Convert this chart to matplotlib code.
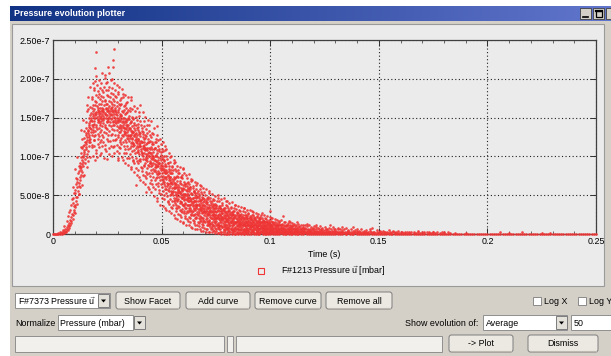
import numpy as np
import matplotlib
matplotlib.use("Agg")
import matplotlib.pyplot as plt
from matplotlib.patches import Rectangle, FancyBboxPatch, Polygon

# Pressure readings (units of 1e-9 mbar) for each millisecond of acquisition,
# split into the four quarter-millisecond sub-bins +0, +0.25, +0.5, +0.75 ms
pressure_quarter_ms = {
    0: [[0], [0], [], []],
    1: [[0], [], [0], []],
    2: [[0], [1], [0], []],
    3: [[0], [2], [1], []],
    4: [[0], [3], [1], [5]],
    5: [[1, 10], [4], [2], [7]],
    6: [[2, 4], [6, 17], [9], [12]],
    7: [[5, 23], [10, 8], [14, 28], [18]],
    8: [[11, 31], [17, 38], [22, 14], [26, 45]],
    9: [[19, 40, 60], [25, 47], [31, 53], [36, 28]],
    10: [[27, 53, 38], [35, 57, 84], [42, 64], [48, 72]],
    11: [[39, 67, 99], [48, 71, 60], [56, 78], [62, 88, 52]],
    12: [[51, 81, 66], [61, 85, 74], [70, 91, 87], [76, 99, 112]],
    13: [[83, 104, 86, 134], [63, 95, 80], [90, 111, 122], [75, 99, 93]],
    14: [[88, 113, 147, 101], [103, 124, 106, 115], [76, 108, 133], [97, 118, 92]],
    15: [[116, 136, 144, 127, 112], [109, 130, 119], [99, 125, 103, 166], [86, 121, 158]],
    16: [[94, 130, 161, 133], [107, 134, 177], [118, 138, 113, 121], [125, 143, 150, 128, 140]],
    17: [[123, 145, 189, 118], [99, 137, 164, 153], [131, 150, 156, 135, 147], [112, 141, 176, 128]],
    18: [[115, 145, 174, 162], [134, 154, 159, 195, 138, 152], [101, 140, 166, 131], [126, 149, 186, 121]],
    19: [[188, 161, 146, 142, 121, 114], [197, 166, 150, 127, 156], [214, 171, 153, 133, 96], [234, 179, 157, 138, 105]],
    20: [[203, 170, 154, 140, 108], [192, 165, 151, 135, 99], [184, 160, 148, 129, 162], [176, 157, 144, 123, 116, 147]],
    21: [[181, 159, 145, 126, 155], [199, 168, 152, 137, 112], [174, 156, 141, 119, 143], [188, 163, 149, 131, 102]],
    22: [[195, 167, 152, 134, 104], [178, 158, 145, 121, 150], [207, 172, 155, 139, 113], [186, 162, 148, 128, 160]],
    23: [[177, 157, 143, 118, 152], [183, 161, 147, 125, 158], [190, 166, 150, 132, 98], [201, 171, 154, 138, 110]],
    24: [[205, 173, 156, 141, 115], [194, 168, 153, 136, 107], [186, 163, 149, 130, 161], [179, 159, 146, 122, 144]],
    25: [[196, 167, 153, 135, 97], [215, 178, 160, 146, 120, 148], [185, 163, 150, 128, 158], [207, 172, 156, 141, 111]],
    26: [[189, 165, 151, 133, 103], [176, 158, 144, 120, 153], [198, 170, 155, 139, 113], [182, 161, 148, 127, 162]],
    27: [[188, 164, 150, 129, 159], [200, 168, 153, 135, 101], [215, 174, 157, 141, 112], [224, 180, 160, 146, 121, 144]],
    28: [[239, 172, 155, 140, 114], [194, 166, 151, 134, 104], [185, 162, 147, 128, 160], [178, 158, 144, 121, 149]],
    29: [[176, 157, 143, 122, 155], [192, 165, 150, 134, 107], [170, 153, 139, 115, 145], [183, 160, 147, 128, 98]],
    30: [[180, 157, 144, 125, 96], [167, 150, 136, 112, 138], [189, 162, 147, 131, 104], [173, 154, 140, 119, 152]],
    31: [[166, 146, 131, 111, 121], [168, 152, 137, 116, 134], [175, 153, 139, 124, 148], [187, 158, 144, 127, 99]],
    32: [[181, 157, 141, 126, 96], [177, 150, 138, 118, 145], [165, 149, 133, 114, 136], [160, 143, 129, 104]],
    33: [[166, 146, 130, 110, 132], [179, 154, 137, 121, 92], [156, 141, 127, 105, 162], [169, 148, 135, 119, 144]],
    34: [[170, 147, 131, 113, 138], [157, 140, 124, 98], [176, 149, 134, 122, 89], [160, 141, 128, 109, 126]],
    35: [[152, 136, 120, 98, 148], [158, 137, 126, 103, 124], [162, 143, 127, 111, 135], [173, 145, 133, 117, 86]],
    36: [[177, 144, 127, 113, 84], [161, 139, 124, 107, 130], [151, 133, 122, 99, 119], [148, 132, 116, 94]],
    37: [[149, 132, 117, 96, 113], [165, 140, 126, 108, 80], [143, 127, 115, 91, 137], [159, 134, 121, 104, 129]],
    38: [[151, 130, 119, 98, 125], [141, 123, 111, 85, 63], [163, 136, 120, 106, 76], [147, 128, 113, 94, 117]],
    39: [[138, 122, 106, 82, 134], [142, 123, 112, 91, 108], [152, 129, 114, 95, 120], [157, 131, 116, 103, 73]],
    40: [[166, 130, 114, 97, 70], [145, 126, 113, 94, 117], [141, 120, 107, 86, 110], [133, 119, 105, 81]],
    41: [[136, 119, 104, 85, 102], [157, 125, 111, 97, 67], [132, 114, 100, 76, 129], [146, 123, 110, 89, 115]],
    42: [[139, 118, 105, 88, 112], [127, 111, 97, 75], [151, 124, 108, 92, 64], [135, 116, 103, 80, 99]],
    43: [[126, 110, 96, 72, 54], [130, 111, 98, 77, 94], [140, 117, 102, 85, 108], [147, 119, 105, 89, 61, 122]],
    44: [[141, 118, 101, 87, 58], [133, 111, 100, 79, 106], [128, 109, 94, 75, 92], [120, 104, 91, 66]],
    45: [[125, 104, 91, 70, 88], [146, 112, 98, 82, 54], [119, 102, 89, 65, 116], [130, 110, 97, 78, 101]],
    46: [[129, 106, 92, 73, 98], [116, 99, 84, 60], [137, 109, 96, 81, 49], [118, 101, 90, 69, 86]],
    47: [[111, 95, 83, 58, 111], [119, 100, 86, 64, 80], [122, 102, 89, 72, 94], [139, 108, 93, 77, 46]],
    48: [[127, 105, 88, 74, 43], [121, 99, 87, 66, 90], [113, 96, 81, 62, 77], [107, 92, 78, 53]],
    49: [[109, 91, 79, 57, 73], [123, 98, 85, 69, 38], [106, 89, 75, 51, 102], [116, 96, 82, 65, 87]],
    50: [[110, 91, 78, 60, 85], [99, 84, 71, 47], [119, 97, 82, 67, 36], [107, 88, 75, 56, 69]],
    51: [[96, 80, 67, 45, 94], [100, 84, 72, 50, 65], [108, 88, 74, 58, 81], [113, 90, 78, 62, 34]],
    52: [[110, 87, 73, 58, 31], [101, 82, 71, 53, 78], [97, 80, 66, 49, 62], [91, 76, 64, 41]],
    53: [[92, 75, 64, 43, 57], [104, 81, 69, 55, 29], [88, 72, 59, 39, 84], [99, 79, 66, 50, 73]],
    54: [[93, 74, 62, 45, 70], [82, 67, 56, 35], [101, 79, 66, 51, 27], [88, 71, 59, 42, 54]],
    55: [[79, 64, 53, 33, 86], [83, 68, 55, 37, 50], [91, 71, 59, 43, 66], [96, 74, 61, 47, 24]],
    56: [[93, 72, 59, 44, 21], [84, 66, 54, 40, 63], [81, 64, 52, 34, 47], [74, 60, 50, 30, 38]],
    57: [[75, 60, 49, 33, 44], [88, 68, 54, 42, 19], [73, 58, 45, 26, 79], [83, 63, 53, 36, 57]],
    58: [[78, 60, 49, 35, 56], [68, 54, 43, 24, 31], [86, 66, 53, 40, 17], [74, 59, 48, 29, 41]],
    59: [[65, 52, 41, 22, 73], [72, 57, 46, 28, 39], [76, 58, 47, 32, 55], [84, 63, 51, 38, 15]],
    60: [[85, 59, 49, 37, 14], [79, 58, 45, 30, 48], [67, 52, 44, 27, 36], [65, 50, 39, 20, 62]],
    61: [[65, 51, 40, 23, 34], [76, 57, 45, 33, 12, 27], [62, 49, 38, 19, 66], [72, 55, 44, 30, 51]],
    62: [[67, 52, 42, 28, 46], [58, 47, 37, 17, 59], [77, 56, 43, 31, 11], [64, 48, 38, 22, 33]],
    63: [[58, 44, 33, 15, 61], [60, 47, 37, 21, 30], [68, 51, 39, 25, 45], [71, 53, 43, 31, 9, 26]],
    64: [[70, 52, 41, 28, 8], [62, 47, 37, 25, 40], [59, 46, 36, 18, 29], [54, 42, 32, 14, 55]],
    65: [[56, 43, 33, 17, 25], [67, 48, 38, 26, 7, 20], [53, 42, 31, 12, 50], [63, 46, 36, 22, 39]],
    66: [[58, 43, 34, 20, 35], [49, 38, 28, 11, 53], [66, 48, 37, 26, 6], [55, 42, 32, 16, 24]],
    67: [[49, 37, 27, 10, 47], [51, 39, 30, 14, 21], [58, 43, 32, 19, 34], [63, 44, 36, 23, 6, 17]],
    68: [[62, 44, 33, 22, 4], [54, 40, 31, 17, 31], [51, 37, 28, 13, 20], [45, 35, 27, 9, 48]],
    69: [[47, 37, 28, 12, 18], [59, 41, 32, 21, 4, 15], [45, 33, 24, 8, 43], [54, 38, 29, 17, 30]],
    70: [[50, 36, 27, 15, 28], [41, 32, 23, 7, 44], [58, 40, 30, 19, 3], [47, 35, 26, 11, 17]],
    71: [[39, 30, 21, 6, 41], [45, 33, 24, 11, 16], [48, 34, 26, 14, 27], [56, 38, 29, 18, 3, 12]],
    72: [[53, 35, 27, 17, 2], [47, 34, 25, 13, 29], [42, 31, 22, 9, 14], [40, 28, 20, 7, 37]],
    73: [[42, 29, 21, 8, 13], [52, 35, 25, 15, 2, 10], [36, 28, 19, 5, 39], [45, 32, 24, 12, 26]],
    74: [[44, 30, 22, 10, 23], [37, 26, 17, 4, 34], [49, 33, 25, 16, 1, 19], [39, 29, 21, 8, 14]],
    75: [[34, 25, 17, 4, 36], [38, 28, 20, 7, 12], [42, 29, 21, 11, 22], [50, 33, 24, 14, 1, 9]],
    76: [[47, 31, 23, 13, 1, 8], [42, 29, 20, 10, 21], [36, 26, 19, 6, 11], [34, 24, 16, 3, 33]],
    77: [[36, 26, 18, 6, 10], [45, 30, 22, 12, 0], [32, 23, 15, 3, 29], [40, 27, 19, 9, 20]],
    78: [[38, 27, 18, 9, 19], [31, 22, 14, 3, 32], [46, 29, 21, 12, 0, 7], [34, 24, 17, 5, 10]],
    79: [[30, 21, 13, 2, 27], [33, 23, 16, 5, 9], [37, 25, 17, 8, 18], [43, 28, 20, 11, 0]],
    80: [[42, 27, 19, 10, 0, 6], [36, 24, 17, 8, 18], [33, 23, 15, 5, 8], [29, 21, 13, 2, 30]],
    81: [[31, 22, 14, 4, 8], [40, 26, 18, 10, 0], [28, 20, 12, 2, 26], [35, 24, 16, 7, 17]],
    82: [[34, 22, 15, 7, 16], [27, 19, 11, 2, 28], [41, 25, 17, 9, 0, 5], [30, 21, 14, 4, 7]],
    83: [[26, 18, 11, 1, 25], [29, 20, 13, 4, 7], [33, 22, 15, 6, 14], [38, 24, 16, 9, 0]],
    84: [[37, 23, 16, 8, 0, 4], [32, 21, 14, 6, 15], [28, 19, 12, 3, 6], [25, 17, 10, 1, 27]],
    85: [[27, 18, 12, 3, 6], [36, 22, 15, 8, 0], [24, 17, 10, 1, 23], [31, 20, 13, 5, 14]],
    86: [[30, 19, 13, 5, 12], [23, 16, 9, 1, 25], [35, 21, 14, 7, 0], [26, 18, 11, 3, 6]],
    87: [[22, 15, 9, 1, 22], [25, 17, 11, 3, 4], [29, 19, 12, 5, 13], [33, 20, 14, 7, 0]],
    88: [[34, 20, 13, 6, 0], [28, 18, 12, 4, 11], [24, 16, 10, 2, 5], [22, 15, 8, 1, 20]],
    89: [[24, 16, 10, 2, 5], [31, 19, 13, 6, 0], [21, 14, 8, 1, 23], [27, 17, 11, 4, 12]],
    90: [[26, 17, 11, 4, 5], [20, 14, 8, 0], [31, 18, 12, 6, 10], [23, 15, 9, 2, 21]],
    91: [[20, 13, 7, 0], [22, 14, 9, 2, 19], [25, 16, 10, 3, 4], [29, 18, 12, 5, 11]],
    92: [[28, 17, 11, 5, 9], [24, 15, 10, 3, 4], [21, 14, 8, 1, 22], [19, 12, 7, 0]],
    93: [[20, 13, 8, 1, 18], [27, 16, 11, 5, 10], [18, 12, 6, 0], [23, 15, 9, 3, 4]],
    94: [[22, 14, 9, 3, 3], [17, 11, 6, 0], [26, 16, 10, 4, 8], [20, 13, 7, 1, 19]],
    95: [[17, 11, 6, 0], [19, 12, 7, 1, 16], [22, 14, 8, 2, 3], [25, 15, 10, 4, 9]],
    96: [[27, 15, 9, 4, 8], [21, 13, 8, 2, 3], [18, 12, 7, 1, 17], [16, 10, 5, 0]],
    97: [[17, 11, 6, 1, 15], [24, 14, 9, 4, 7], [15, 10, 5, 0], [20, 12, 8, 2, 3]],
    98: [[19, 12, 7, 2, 2], [15, 9, 5, 0], [23, 13, 8, 3, 7], [17, 11, 6, 1, 16]],
    99: [[14, 9, 4, 0], [16, 10, 6, 1, 14], [18, 11, 7, 2, 2], [22, 13, 8, 3, 6]],
    100: [[30, 13, 8, 4, 0], [21, 12, 7, 3, 6], [17, 11, 6, 2, 10], [15, 9, 5, 1]],
    101: [[20, 10, 5, 1], [16, 8, 4, 0], [13, 7, 3, 14], [11, 6, 2]],
    102: [[19, 9, 4, 0], [15, 8, 3, 13], [12, 7, 2], [10, 5, 1]],
    103: [[18, 9, 4, 0], [14, 7, 3, 11], [12, 6, 2], [10, 5, 1]],
    104: [[17, 8, 4, 0], [13, 7, 3, 15], [11, 6, 2], [9, 5, 1]],
    105: [[18, 8, 3, 12], [13, 6, 2], [11, 5, 1], [9, 4, 0]],
    106: [[23, 8, 3], [16, 7, 2], [12, 6, 1], [10, 4, 0]],
    107: [[15, 7, 2], [12, 5, 1], [10, 4, 0], [8, 3, 11]],
    108: [[14, 6, 2], [11, 5, 1], [9, 4, 0], [8, 3, 17]],
    109: [[15, 6, 2], [11, 5, 1], [9, 4, 0], [7, 3, 10]],
    110: [[14, 6, 1], [10, 4, 0], [8, 3, 12], [7, 2]],
    111: [[13, 5, 1], [10, 4, 0], [8, 3], [6, 2]],
    112: [[12, 5, 1], [9, 4, 0], [7, 3, 16], [6, 2]],
    113: [[13, 4, 0], [9, 3, 10], [7, 2], [5, 1]],
    114: [[11, 4, 0], [8, 3], [7, 2], [5, 1]],
    115: [[12, 4, 0], [8, 3, 9], [6, 2], [5, 1]],
    116: [[11, 3], [8, 2], [6, 1], [4, 0]],
    117: [[10, 3, 13], [7, 2], [5, 1], [4, 0]],
    118: [[11, 3], [7, 2], [5, 1], [4, 0]],
    119: [[9, 2], [7, 1], [5, 0], [3, 8]],
    120: [[10, 2], [6, 1], [4, 0], [3]],
    121: [[9, 2, 12], [6, 1], [4, 0], [3]],
    122: [[8, 2], [6, 1], [4, 0], [3]],
    123: [[10, 1], [5, 0], [4, 7], [2]],
    124: [[8, 1], [5, 0], [3], [2]],
    125: [[9, 1], [5, 0], [3, 6], [2]],
    126: [[7, 1], [5, 0], [3], [2]],
    127: [[8, 1], [4, 0], [3, 11], [2]],
    128: [[7, 0], [4], [3], [1]],
    129: [[9, 0], [4, 6], [2], [1]],
    130: [[7, 0], [4], [2], [1]],
    131: [[6, 0], [3, 8], [2], [1]],
    132: [[7, 0], [3], [2], [1]],
    133: [[5, 0], [3, 9], [2], [1]],
    134: [[6], [3], [1], [0]],
    135: [[8, 0], [3], [2], [1]],
    136: [[5, 4], [2], [1], [0]],
    137: [[6], [3], [1], [0]],
    138: [[9, 0], [4], [2], [1]],
    139: [[5], [2], [1], [0]],
    140: [[6, 4], [3], [1], [0]],
    141: [[4], [2], [1], [0]],
    142: [[7], [3], [1], [0]],
    143: [[4], [2], [0], [1]],
    144: [[5], [2], [1], [0]],
    145: [[3], [1], [0], [6]],
    146: [[4], [2], [1], [0]],
    147: [[8], [3], [1], [0]],
    148: [[3], [1], [0], []],
    149: [[5], [2], [1], [0]],
    150: [[3], [1], [0], [4]],
    151: [[2], [1], [0], []],
    152: [[4], [2], [0], []],
    153: [[3], [1], [0], []],
    154: [[2], [1], [0], [5]],
    155: [[3], [1], [0], []],
    156: [[2], [0], [4], []],
    157: [[3], [1], [0], []],
    158: [[2], [1], [0], []],
    159: [[4], [1], [0], []],
    160: [[2], [0], [3], []],
}

# Tail of the record: readings per whole millisecond (units of 1e-9 mbar)
tail_pressure_by_ms = {
    161: [1, 0], 162: [3, 1, 0], 163: [2, 0], 164: [1, 0, 3], 165: [2, 0],
    166: [3, 1, 0], 167: [1, 0], 168: [2, 0, 4], 169: [1, 0], 170: [3, 0],
    171: [1, 0, 2], 172: [2, 0], 173: [3, 1, 0], 174: [1, 0], 175: [2, 0, 3],
    176: [0, 1], 177: [3, 0], 178: [1, 0], 179: [2, 0], 180: [1, 0, 3],
    181: [0], 182: [2, 0], 183: [1, 0], 184: [0], 185: [1, 0],
    186: [0], 187: [0], 188: [0], 189: [0], 190: [1, 0],
    191: [0], 192: [0], 193: [0], 194: [0], 195: [0],
    196: [0], 197: [0], 198: [0], 199: [0], 200: [0],
    201: [0], 202: [0], 203: [0], 204: [0], 205: [0],
    206: [2, 0], 207: [0], 208: [0], 209: [0], 210: [1, 0],
    211: [0], 212: [0], 213: [0], 214: [0], 215: [0],
    216: [2, 0], 217: [0], 218: [0], 219: [0], 220: [0],
    221: [0], 222: [0], 223: [0], 224: [0], 225: [1, 0],
    226: [0], 227: [0], 228: [0], 229: [1, 0], 230: [0],
    231: [0], 232: [0], 233: [0], 234: [0], 235: [0],
    236: [0], 237: [0], 238: [0], 239: [0], 240: [0],
    241: [0], 242: [0], 243: [0], 244: [0], 245: [0],
    246: [0], 247: [0], 248: [0], 249: [0], 250: [0],
}

sub_bin_offsets_ms = [0.0, 0.25, 0.5, 0.75]

x_ticks = [0, 0.05, 0.1, 0.15, 0.2, 0.25]
x_tick_labels = ["0", "0.05", "0.1", "0.15", "0.2", "0.25"]
y_ticks = [0, 5e-8, 1e-7, 1.5e-7, 2e-7, 2.5e-7]
y_tick_labels = ["0", "5.00e-8", "1.00e-7", "1.50e-7", "2.00e-7", "2.50e-7"]
x_label = "Time (s)"
curve_label = r"F#1213 Pressure $\vec{\mathrm{u}}$ [mbar]"
window_title = "Pressure evolution plotter"

times, values = [], []
for t, bins in pressure_quarter_ms.items():
    for off, vals in zip(sub_bin_offsets_ms, bins):
        for v in vals:
            times.append(t + off)
            values.append(v)
for t, vals in tail_pressure_by_ms.items():
    for v in vals:
        times.append(t)
        values.append(v)
time_s = np.array(times) * 1e-3
pressure_mbar = np.array(values) * 1e-9

plt.rcParams["font.family"] = ["Liberation Sans", "DejaVu Sans"]
plt.rcParams["mathtext.fontset"] = "custom"
plt.rcParams["mathtext.rm"] = "Liberation Sans"
plt.rcParams["mathtext.it"] = "Liberation Sans"

W, H = 611, 356
WIN_GRAY = "#d4d0c8"
PANEL = "#ebebeb"
RED = "#ef3535"
FS = 6.4

fig = plt.figure(figsize=(W / 100, H / 100), dpi=100)
fig.patch.set_facecolor(WIN_GRAY)

ui = fig.add_axes([0, 0, 1, 1], zorder=0)
ui.axis("off")

# window frame and title bar
ui.add_patch(Rectangle((0, 0), W, 6, fc="white", ec="none"))
ui.add_patch(Rectangle((0, 0), 10, H, fc="white", ec="none"))
grad = np.linspace(0, 1, 256)[None, :, None]
c0 = np.array([0.07, 0.20, 0.52])
c1 = np.array([0.38, 0.46, 0.80])
ui.imshow(c0 + (c1 - c0) * grad, extent=[10, W, 21, 6], aspect="auto", zorder=1)
ui.text(14, 13.5, window_title, color="white", fontsize=FS, fontweight="bold",
        va="center", ha="left", zorder=2)
for bx in (580, 593, 606):
    ui.add_patch(Rectangle((bx, 8), 11, 11, fc=WIN_GRAY, ec="#404040", lw=0.6, zorder=2))
ui.plot([582.5, 587.5], [16.5, 16.5], color="black", lw=1.2, zorder=3)
ui.add_patch(Rectangle((595.5, 10.5), 6, 6, fc="none", ec="black", lw=0.9, zorder=3))
ui.plot([595.5, 601.5], [11, 11], color="black", lw=1.6, zorder=3)

# plotting panel
ui.add_patch(Rectangle((12, 24), 592, 262, fc=PANEL, ec="#9a9a9a", lw=0.8, zorder=1))


def button(x, y, w, h, label):
    ui.add_patch(FancyBboxPatch((x, y), w, h, boxstyle="round,pad=0,rounding_size=2.5",
                                fc="#ece9e2", ec="#7c7c7c", lw=0.7, zorder=2))
    ui.plot([x + 2, x + w - 2], [y + h - 1.2, y + h - 1.2], color="#bdb9b0", lw=0.8, zorder=2)
    ui.text(x + w / 2, y + h / 2 + 0.5, label, fontsize=FS, ha="center", va="center",
            color="black", zorder=3)


def field(x, y, w, h, fc="white", text=None):
    ui.add_patch(Rectangle((x, y), w, h, fc=fc, ec="#8f8f8f", lw=0.7, zorder=2))
    if text:
        ui.text(x + 2.5, y + h / 2 + 0.5, text, fontsize=FS, ha="left", va="center", zorder=3)


def drop_arrow(x, y, w, h):
    ui.add_patch(Rectangle((x, y), w, h, fc="#e4e1da", ec="#7c7c7c", lw=0.7, zorder=3))
    cx, cy = x + w / 2, y + h / 2 + 0.5
    ui.add_patch(Polygon([[cx - 2.5, cy - 1.5], [cx + 2.5, cy - 1.5], [cx, cy + 1.5]],
                         closed=True, fc="black", ec="none", zorder=4))


def checkbox(x, y, label):
    ui.add_patch(Rectangle((x, y), 8, 8, fc="white", ec="#8a8a8a", lw=0.7, zorder=2))
    ui.text(x + 11, y + 4.5, label, fontsize=FS, ha="left", va="center", zorder=3)


# row 1
field(15, 293, 95, 15, text=r"F#7373 Pressure $\vec{\mathrm{u}}$")
drop_arrow(98, 294, 11, 13)
button(116, 292, 64, 17, "Show Facet")
button(186, 292, 64, 17, "Add curve")
button(255, 292, 66, 17, "Remove curve")
button(326, 292, 66, 17, "Remove all")
checkbox(533, 297, "Log X")
checkbox(578, 297, "Log Y")

# row 2
ui.text(15, 323.5, "Normalize", fontsize=FS, ha="left", va="center")
field(58, 315, 75, 15, text="Pressure (mbar)")
drop_arrow(134, 316, 11, 13)
ui.text(405, 323.5, "Show evolution of:", fontsize=FS, ha="left", va="center")
field(483, 315, 84, 15, text="Average")
drop_arrow(556, 316, 11, 13)
field(571, 315, 45, 15, text="50")

# row 3
field(15, 336, 209, 16, fc="#f1f0ec")
field(227, 336, 6, 16, fc="#f1f0ec")
field(236, 336, 206, 16, fc="#f1f0ec")
button(449, 335, 64, 17, "-> Plot")
button(528, 335, 70, 17, "Dismiss")

ui.set_xlim(0, W)
ui.set_ylim(H, 0)

# data axes
L, R, T, B = 53, 596, 40, 234
ax = fig.add_axes([L / W, 1 - B / H, (R - L) / W, (B - T) / H], zorder=5)
ax.set_facecolor(PANEL)
ax.set_axisbelow(True)
ax.plot(time_s, pressure_mbar, ls="none", marker="o", ms=1.9, mew=0,
        color=RED, alpha=0.9, clip_on=False, zorder=3)
ax.set_xlim(0, 0.25)
ax.set_ylim(0, 2.5e-7)
ax.set_xticks(x_ticks)
ax.set_xticklabels(x_tick_labels)
ax.set_yticks(y_ticks)
ax.set_yticklabels(y_tick_labels)
ax.set_xticks(np.arange(0, 0.2501, 0.01), minor=True)
ax.tick_params(axis="both", which="major", direction="in", length=4, width=0.7,
               top=True, right=True, labelsize=FS, pad=2, color="#303030")
ax.tick_params(axis="x", which="minor", direction="in", length=2.5, width=0.6,
               top=True, bottom=True, color="#505050")
ax.grid(True, which="major", color="#202020", ls=(0, (1, 2.2)), lw=0.8)
for s in ax.spines.values():
    s.set_color("#404040")
    s.set_linewidth(0.9)
    s.set_zorder(2)
ax.set_xlabel(x_label, fontsize=FS, labelpad=3)

# legend entry under the axes
ui.plot([261], [271], marker="s", ms=4.2, mfc="none", mec=RED, mew=0.8, ls="none", zorder=6)
ui.text(281, 271.5, curve_label, fontsize=FS, ha="left", va="center", zorder=6)

fig.savefig("out.png", dpi=100, facecolor=fig.get_facecolor())
